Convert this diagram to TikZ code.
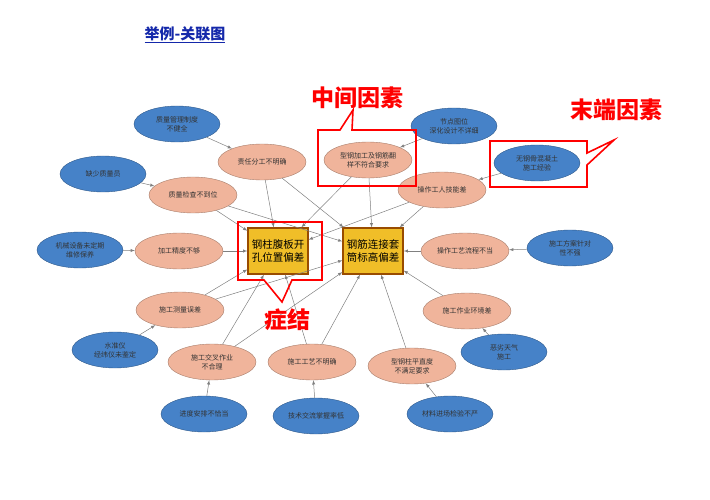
\documentclass[tikz,border=0pt]{standalone}
\usepackage{fontspec}
\setmainfont{Noto Sans CJK SC}
\usetikzlibrary{shapes.geometric,arrows}
\definecolor{endblue}{RGB}{70,130,200}
\definecolor{midorange}{RGB}{240,180,155}
\definecolor{goldbox}{RGB}{240,190,40}
\definecolor{titleblue}{RGB}{20,40,170}
\tikzset{
  endcause/.style={ellipse,fill=endblue,draw=endblue!70!black,minimum width=86pt,minimum height=36pt,inner sep=0pt,align=center,font=\fontsize{7}{9}\selectfont,text=black!80},
  midcause/.style={ellipse,fill=midorange,draw=midorange!70!black,minimum width=88pt,minimum height=36pt,inner sep=0pt,align=center,font=\fontsize{7}{9}\selectfont,text=black!80},
  problem/.style={rectangle,fill=goldbox,draw=orange!60!black,line width=1.2pt,minimum width=60pt,minimum height=46pt,inner sep=1pt,align=center,font=\fontsize{10.5}{13}\selectfont},
  link/.style={draw=gray,line width=0.5pt,-latex},
  callout/.style={draw=red,line width=1.6pt},
  calltext/.style={text=red,font=\fontsize{23}{25}\selectfont\bfseries}
}
\begin{document}
\begin{tikzpicture}[x=1pt,y=-1pt]
\useasboundingbox (0,0) rectangle (710,500);
\node[text=titleblue,font=\fontsize{15}{17}\selectfont\bfseries] (title) at (185,35) {\underline{举例-关联图}};
% end causes
\node[endcause] (e1) at (177,124) {质量管理制度\\不健全};
\node[endcause] (e2) at (103,174) {缺少质量员};
\node[endcause] (e3) at (80,250) {机械设备未定期\\维修保养};
\node[endcause] (e4) at (115,350) {水准仪\\经纬仪未鉴定};
\node[endcause] (e5) at (204,414) {进度安排不恰当};
\node[endcause] (e6) at (316,416) {技术交流掌握率低};
\node[endcause] (e7) at (450,414) {材料进场检验不严};
\node[endcause] (e8) at (504,352) {恶劣天气\\施工};
\node[endcause] (e9) at (570,248) {施工方案针对\\性不强};
\node[endcause] (e10) at (537,163) {无钢骨混凝土\\施工经验};
\node[endcause] (e11) at (454,126) {节点图位\\深化设计不详细};
% middle causes
\node[midcause] (m1) at (262,162) {责任分工不明确};
\node[midcause] (m2) at (193,195) {质量检查不到位};
\node[midcause] (m3) at (179,251) {加工精度不够};
\node[midcause] (m4) at (180,310) {施工测量误差};
\node[midcause] (m5) at (212,362) {施工交叉作业\\不合理};
\node[midcause] (m6) at (312,362) {施工工艺不明确};
\node[midcause] (m7) at (412,366) {型钢柱平直度\\不满足要求};
\node[midcause] (m8) at (467,311) {施工作业环境差};
\node[midcause] (m9) at (442,190) {操作工人技能差};
\node[midcause] (m10) at (465,251) {操作工艺流程不当};
\node[midcause] (m11) at (368,160) {型钢加工及钢筋翻\\样不符合要求};
% problems
\node[problem] (pa) at (278,251) {钢柱腹板开\\孔位置偏差};
\node[problem] (pb) at (373,251) {钢筋连接套\\筒标高偏差};
% links
\foreach \e/\m in {e1/m1,e2/m2,e3/m3,e4/m4,e5/m5,e6/m6,e7/m7,e8/m8,e9/m10,e10/m9,e11/m11}
  \draw[link] (\e) -- (\m);
\foreach \m in {m1,m2,m3,m4,m5,m6,m9,m11}
  \draw[link] (\m) -- (pa);
\foreach \m in {m1,m2,m4,m5,m6,m7,m8,m9,m10,m11}
  \draw[link] (\m) -- (pb);
% callouts
\draw[callout] (238,222) -- (322,222) -- (322,280) -- (292,280) -- (282,302) -- (264,280) -- (238,280) -- cycle;
\node[calltext] (c1) at (287,320) {症结};
\draw[callout] (318,130) -- (340,130) -- (353,110) -- (352,130) -- (416,130) -- (416,186) -- (318,186) -- cycle;
\node[calltext] (c2) at (357,98) {中间因素};
\draw[callout] (490,141) -- (587,141) -- (587,153) -- (614,140) -- (587,165) -- (587,187) -- (490,187) -- cycle;
\node[calltext] (c3) at (616,110) {末端因素};
\end{tikzpicture}
\end{document}
